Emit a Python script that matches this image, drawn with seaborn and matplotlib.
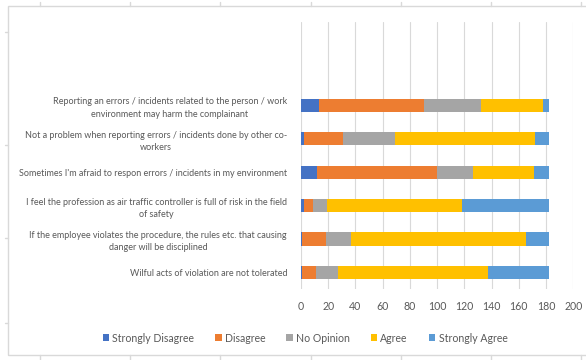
import matplotlib
matplotlib.use("Agg")
import matplotlib.pyplot as plt
from matplotlib.lines import Line2D
from matplotlib.patches import Rectangle, Patch
import numpy as np
import pandas as pd
import seaborn as sns

statements = [
    "Reporting an errors / incidents related to the person / work\nenvironment may harm the complainant",
    "Not a problem when reporting errors / incidents done by other co-\nworkers",
    "Sometimes I'm afraid to respon errors / incidents in my environment",
    "I feel the profession as air traffic controller is full of risk in the field\nof safety",
    "If the employee violates the procedure, the rules etc. that causing\ndanger will be disciplined",
    "Wilful acts of violation are not tolerated",
]
responses = ["Strongly Disagree", "Disagree", "No Opinion", "Agree", "Strongly Agree"]
strongly_disagree = [13, 2, 12, 2, 1, 1]
disagree = [77, 29, 88, 7, 17, 10]
no_opinion = [42, 38, 26, 10, 19, 16]
agree = [46, 103, 45, 99, 128, 110]
strongly_agree = [4, 10, 11, 64, 17, 45]
x_ticks = [0, 20, 40, 60, 80, 100, 120, 140, 160, 180, 200]

colors = ["#4472C4", "#ED7D31", "#A5A5A5", "#FFC000", "#5B9BD5"]

sns.set_theme(style="white")
plt.rcParams["font.family"] = ["Lato", "DejaVu Sans"]

df = pd.DataFrame(
    {
        "statement": statements,
        "Strongly Disagree": strongly_disagree,
        "Disagree": disagree,
        "No Opinion": no_opinion,
        "Agree": agree,
        "Strongly Agree": strongly_agree,
    }
)
cum = df[responses].cumsum(axis=1)

fig = plt.figure(figsize=(5.86, 3.60), dpi=100)
ax = fig.add_axes([301 / 586, 1 - 289 / 360, (573.3 - 301) / 586, (289 - 22) / 360])

# stacked bars: draw running totals from the outermost segment inward
for resp, col in reversed(list(zip(responses, colors))):
    sns.barplot(
        x=cum[resp], y=df["statement"], color=col, orient="h",
        width=0.4, ax=ax, saturation=1, linewidth=0, order=statements,
    )

ax.set_xlim(0, 200)
ax.set_ylim(5.5, -2.5)
ax.set_xticks(x_ticks)
ax.set_xticklabels([str(t) for t in x_ticks])
ax.set_xlabel("")
ax.set_ylabel("")
ax.grid(axis="x", color="#d9d9d9", linewidth=0.8)
ax.set_axisbelow(True)
for s in ax.spines.values():
    s.set_visible(False)
ax.tick_params(axis="both", length=0, labelsize=7.6, colors="#595959")
ax.tick_params(axis="x", pad=9)
ax.tick_params(axis="y", pad=10)
for lbl in ax.get_yticklabels():
    lbl.set_multialignment("center")
    lbl.set_fontsize(6.5)
    lbl.set_linespacing(1.45)

handles = [Patch(facecolor=c, edgecolor="none") for c in colors]
fig.legend(
    handles, responses, loc="center", bbox_to_anchor=(305 / 586, 1 - 338 / 360),
    ncol=5, frameon=False, fontsize=7.6, handlelength=0.6, handleheight=0.6,
    handletextpad=0.3, columnspacing=2.0, labelcolor="#595959",
)

# outer frame of the chart area with its small marks
frame_col = "#d9d9d9"
fig.add_artist(Rectangle((8 / 586, 1 - 355 / 360), (586 - 8) / 586 + 0.01, (355 - 6) / 360,
                         transform=fig.transFigure, fill=False, edgecolor=frame_col, linewidth=1))
for xp in [40, 130, 220, 311, 401, 491, 581]:
    fig.add_artist(Line2D([xp / 586] * 2, [1 - 2 / 360, 1 - 6 / 360], transform=fig.transFigure,
                          color=frame_col, linewidth=1))
    fig.add_artist(Line2D([xp / 586] * 2, [1 - 355 / 360, 0], transform=fig.transFigure,
                          color=frame_col, linewidth=1))
for yp in [32, 145, 238, 323]:
    fig.add_artist(Line2D([5 / 586, 8 / 586], [1 - yp / 360] * 2, transform=fig.transFigure,
                          color=frame_col, linewidth=1))

fig.savefig("out.png", dpi=100)
